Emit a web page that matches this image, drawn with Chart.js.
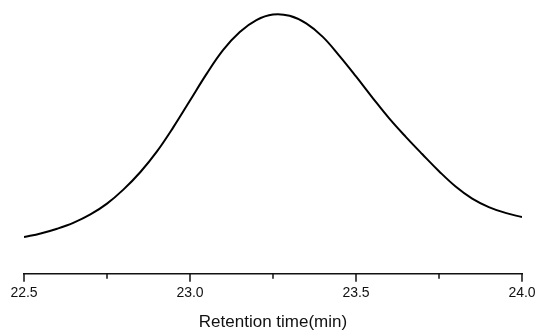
<!DOCTYPE html>
<html>
<head>
<meta charset="utf-8">
<script src="https://cdn.jsdelivr.net/npm/chart.js@4.4.0/dist/chart.umd.min.js"></script>
<style>
  html, body { margin: 0; padding: 0; background: #fff; }
  #wrap { width: 540px; height: 334px; }
</style>
</head>
<body>
<div id="wrap"><canvas id="peak"></canvas></div>
<script>
// retention time (min) and detector signal (relative, %)
var times = [22.50, 22.55, 22.60, 22.65, 22.70, 22.75, 22.80, 22.85, 22.90, 22.95, 23.00,
             23.05, 23.10, 23.15, 23.20, 23.25, 23.30, 23.35, 23.40, 23.45, 23.50,
             23.55, 23.60, 23.65, 23.70, 23.75, 23.80, 23.85, 23.90, 23.95, 24.00];
var signal = [13.9, 15.3, 17.1, 19.4, 22.5, 26.6, 32.0, 38.5, 46.3, 55.6, 65.7,
              75.8, 84.9, 91.7, 96.2, 98.3, 97.8, 94.9, 89.8, 82.6, 74.8,
              66.7, 58.9, 51.9, 45.3, 38.9, 33.1, 28.5, 25.3, 23.1, 21.5];
var tickLabels = ['22.5', '23.0', '23.5', '24.0'];

var points = times.map(function (t, i) { return { x: t, y: signal[i] }; });

function isHalf(v) {
    return Math.abs(v * 2 - Math.round(v * 2)) < 1e-6;
}

// axis ticks: long ones under the labels, short ones in between
var tickMarks = {
    id: 'tickMarks',
    afterDraw: function (chart) {
        var scale = chart.scales.x;
        var ctx = chart.ctx;
        var bottom = chart.chartArea.bottom;
        ctx.save();
        ctx.strokeStyle = '#111';
        ctx.lineWidth = 1.5;
        scale.ticks.forEach(function (tk) {
            var x = scale.getPixelForValue(tk.value);
            ctx.beginPath();
            ctx.moveTo(x, bottom);
            ctx.lineTo(x, bottom + (isHalf(tk.value) ? 8 : 5));
            ctx.stroke();
        });
        ctx.restore();
    }
};

var ctx = document.getElementById('peak');
var chart = new Chart(ctx, {
    type: 'line',
    data: {
        datasets: [{
            data: points,
            borderColor: '#000',
            borderWidth: 2,
            pointRadius: 0,
            fill: false,
            tension: 0.4
        }]
    },
    options: {
        responsive: true,
        maintainAspectRatio: false,
        animation: false,
        layout: { padding: { left: 24, right: 18, top: 10, bottom: 0 } },
        plugins: { legend: { display: false }, tooltip: { enabled: false } },
        scales: {
            x: {
                type: 'linear',
                min: 22.5,
                max: 24.0,
                afterFit: function (scale) {
                    // let the layout padding alone decide the plot width
                    scale.paddingLeft = 0;
                    scale.paddingRight = 0;
                },
                grid: { display: true, drawOnChartArea: false, drawTicks: false },
                border: { display: true, color: '#111', width: 1.5 },
                ticks: {
                    stepSize: 0.25,
                    autoSkip: false,
                    maxRotation: 0,
                    padding: 11,
                    color: '#111',
                    font: { family: '"Liberation Sans", Arial, sans-serif', size: 14 },
                    callback: function (v) {
                        var s = Number(v).toFixed(1);
                        return (isHalf(v) && tickLabels.indexOf(s) >= 0) ? s : '';
                    }
                },
                title: {
                    display: true,
                    text: 'Retention time(min)',
                    color: '#111',
                    font: { family: '"Liberation Sans", Arial, sans-serif', size: 17 },
                    padding: { top: 0, bottom: 1 }
                }
            },
            y: {
                display: false,
                min: 0,
                max: 100
            }
        }
    },
    plugins: [tickMarks]
});
</script>
</body>
</html>
